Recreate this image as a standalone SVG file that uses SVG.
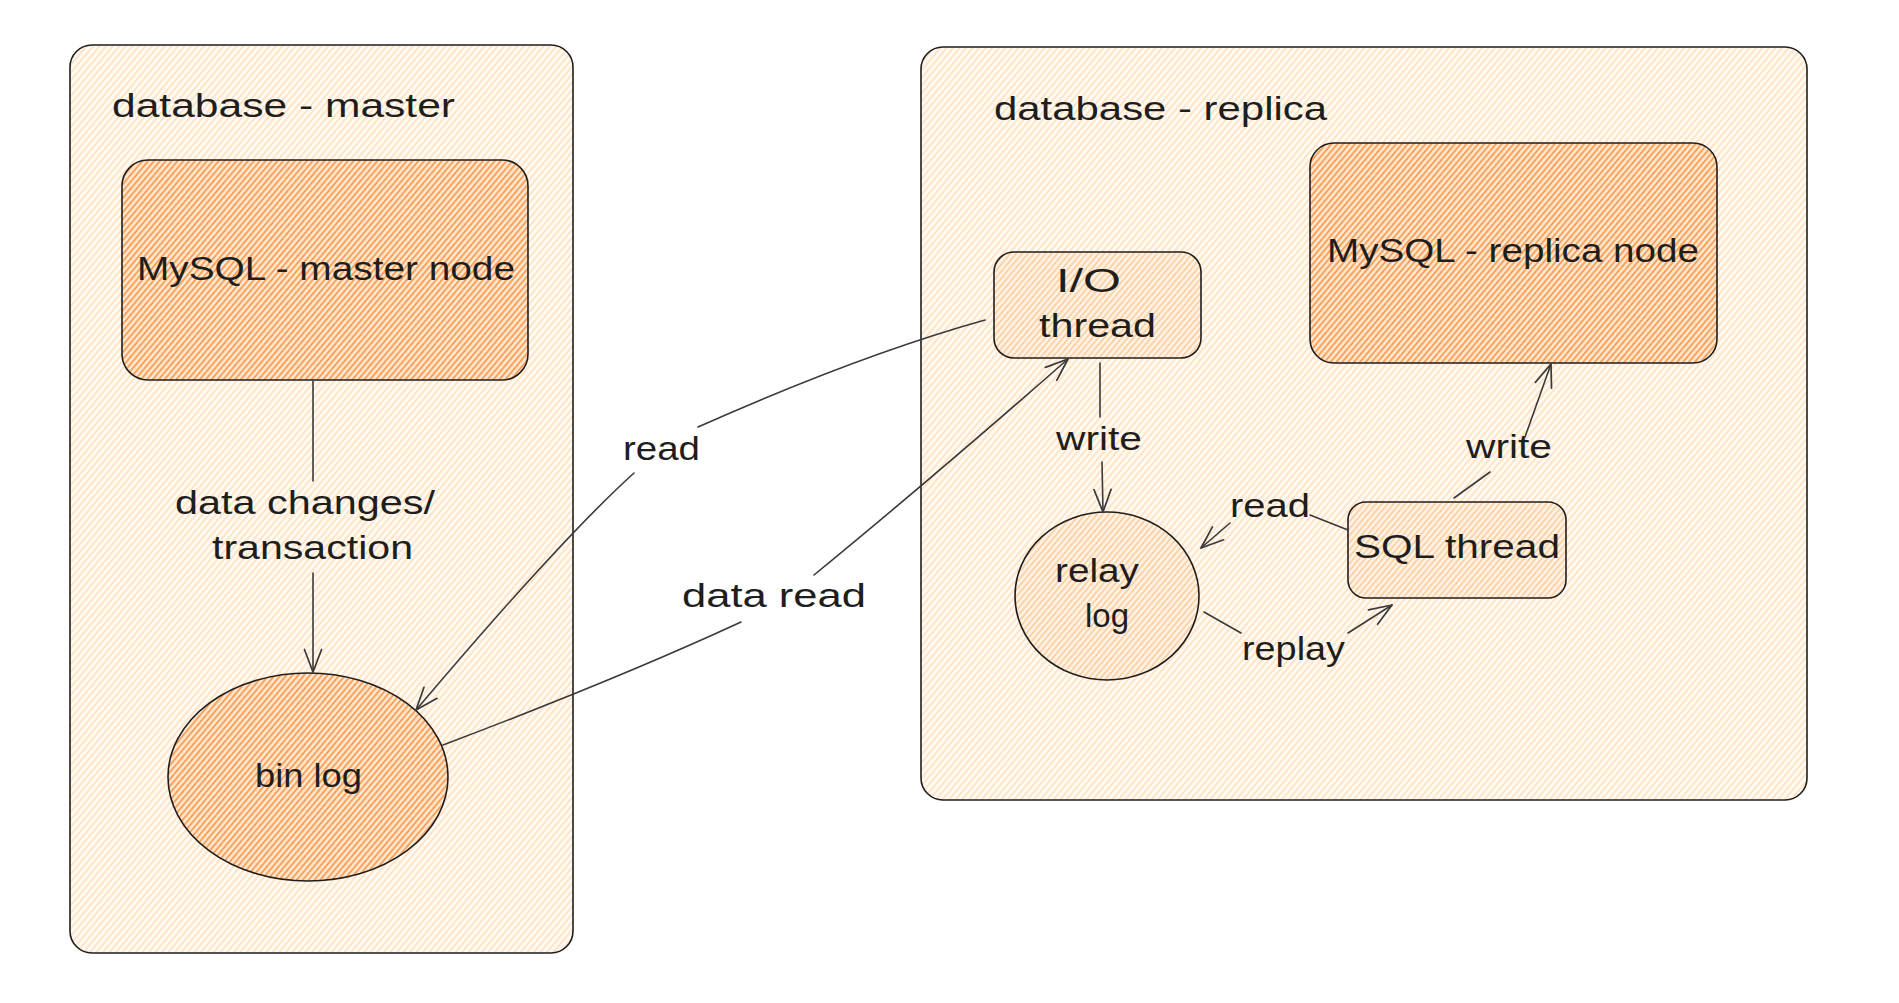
<svg xmlns="http://www.w3.org/2000/svg" width="1899" height="1003" viewBox="0 0 1899 1003">
<style>
.t{font-family:"Liberation Sans","DejaVu Sans",sans-serif;font-size:33px;fill:#1e1e1e}
.box{stroke:#1e1e1e;stroke-width:1.6}
.edge{fill:none;stroke:#3a3a3a;stroke-width:1.6;stroke-linecap:round}
</style>
<defs>
<pattern id="hLight" patternUnits="userSpaceOnUse" width="5" height="5" patternTransform="rotate(40)">
<rect width="5" height="5" fill="#fffaf3"/>
<line x1="1" y1="0" x2="1" y2="5" stroke="#ffd9ae" stroke-width="1.3"/>
</pattern>
<pattern id="hStrong" patternUnits="userSpaceOnUse" width="4.5" height="4.5" patternTransform="rotate(40)">
<rect width="4.5" height="4.5" fill="#ffe6cc"/>
<line x1="1" y1="0" x2="1" y2="4.5" stroke="#f99a50" stroke-width="1.7"/>
</pattern>
<pattern id="hMid" patternUnits="userSpaceOnUse" width="4.5" height="4.5" patternTransform="rotate(40)">
<rect width="4.5" height="4.5" fill="#fff2e4"/>
<line x1="1" y1="0" x2="1" y2="4.5" stroke="#fccb98" stroke-width="1.5"/>
</pattern>
<marker id="arr" markerUnits="userSpaceOnUse" markerWidth="30" markerHeight="30" refX="0" refY="0" viewBox="-24 -12 28 24" orient="auto" overflow="visible">
<path d="M-21,-8 L0,0 L-21,8" fill="none" stroke="#3a3a3a" stroke-width="1.6" stroke-linecap="round" stroke-linejoin="round"/>
</marker>
</defs>
<rect width="1899" height="1003" fill="#ffffff"/>

<g id="master-db">
<rect class="box" x="70" y="45" width="503" height="908" rx="22" fill="url(#hLight)"/>
<text class="t" x="112" y="117" textLength="343" lengthAdjust="spacingAndGlyphs">database - master</text>
</g>

<g id="replica-db">
<rect class="box" x="921" y="47" width="886" height="753" rx="22" fill="url(#hLight)"/>
<text class="t" x="994" y="120" textLength="333" lengthAdjust="spacingAndGlyphs">database - replica</text>
</g>

<g id="mysql-master">
<rect class="box" x="122" y="160" width="406" height="220" rx="26" fill="url(#hStrong)"/>
<text class="t" x="137" y="280" textLength="378" lengthAdjust="spacingAndGlyphs">MySQL - master node</text>
</g>

<g id="binlog">
<ellipse class="box" cx="308" cy="777" rx="140" ry="104" fill="url(#hStrong)"/>
<text class="t" x="255" y="787" textLength="107" lengthAdjust="spacingAndGlyphs">bin log</text>
</g>

<g id="mysql-replica">
<rect class="box" x="1310" y="143" width="407" height="220" rx="24" fill="url(#hStrong)"/>
<text class="t" x="1327" y="262" textLength="372" lengthAdjust="spacingAndGlyphs">MySQL - replica node</text>
</g>

<g id="io-thread">
<rect class="box" x="994" y="252" width="207" height="106" rx="20" fill="url(#hMid)"/>
<text class="t" x="1056" y="292" textLength="65" lengthAdjust="spacingAndGlyphs">I/O</text>
<text class="t" x="1039" y="337" textLength="117" lengthAdjust="spacingAndGlyphs">thread</text>
</g>

<g id="relay-log">
<ellipse class="box" cx="1107" cy="596" rx="92" ry="84" fill="url(#hMid)"/>
<text class="t" x="1055" y="582" textLength="84" lengthAdjust="spacingAndGlyphs">relay</text>
<text class="t" x="1085" y="627" textLength="44" lengthAdjust="spacingAndGlyphs">log</text>
</g>

<g id="sql-thread">
<rect class="box" x="1348" y="502" width="218" height="96" rx="18" fill="url(#hMid)"/>
<text class="t" x="1354" y="558" textLength="206" lengthAdjust="spacingAndGlyphs">SQL thread</text>
</g>

<g id="connectors">
<path class="edge" d="M313,381 L313,481"/>
<path class="edge" d="M313,573 L313,672" marker-end="url(#arr)"/>
<text class="t" x="175" y="514" textLength="260" lengthAdjust="spacingAndGlyphs">data changes/</text>
<text class="t" x="212" y="559" textLength="201" lengthAdjust="spacingAndGlyphs">transaction</text>

<path class="edge" d="M985,320 Q860,355 698,427"/>
<path class="edge" d="M634,473 Q560,540 416,710" marker-end="url(#arr)"/>
<text class="t" x="623" y="460" textLength="77" lengthAdjust="spacingAndGlyphs">read</text>

<path class="edge" d="M443,745 Q620,678 741,622"/>
<path class="edge" d="M814,575 Q930,480 1068,359" marker-end="url(#arr)"/>
<text class="t" x="682" y="607" textLength="184" lengthAdjust="spacingAndGlyphs">data read</text>

<path class="edge" d="M1100,363 L1100,417"/>
<path class="edge" d="M1102,462 L1103,512" marker-end="url(#arr)"/>
<text class="t" x="1056" y="450" textLength="86" lengthAdjust="spacingAndGlyphs">write</text>

<path class="edge" d="M1348,530 L1310,515"/>
<path class="edge" d="M1230,523 L1201,548" marker-end="url(#arr)"/>
<text class="t" x="1230" y="517" textLength="80" lengthAdjust="spacingAndGlyphs">read</text>

<path class="edge" d="M1204,612 L1241,633"/>
<path class="edge" d="M1348,633 L1392,605" marker-end="url(#arr)"/>
<text class="t" x="1242" y="660" textLength="103" lengthAdjust="spacingAndGlyphs">replay</text>

<path class="edge" d="M1454,498 L1490,472"/>
<path class="edge" d="M1525,437 L1551,364" marker-end="url(#arr)"/>
<text class="t" x="1466" y="458" textLength="86" lengthAdjust="spacingAndGlyphs">write</text>
</g>
</svg>
